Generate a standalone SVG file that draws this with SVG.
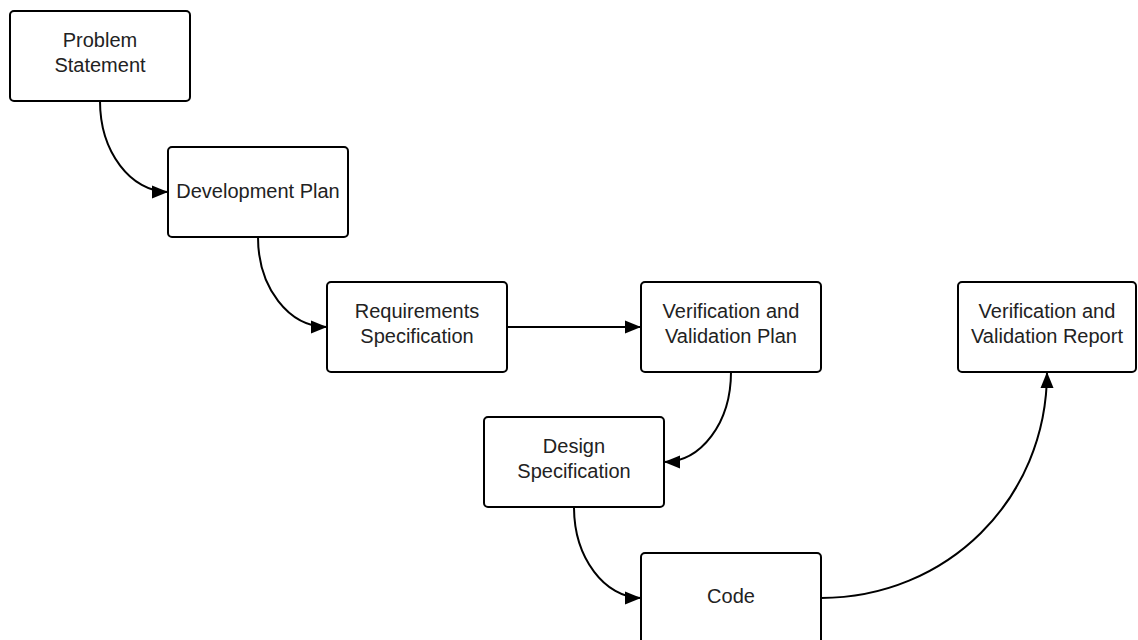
<svg xmlns="http://www.w3.org/2000/svg" width="1138" height="640" viewBox="0 0 1138 640">
<style>
.box{fill:#ffffff;stroke:#000000;stroke-width:2}
.lbl{font-family:"Liberation Sans",Arial,sans-serif;font-size:20px;fill:#222222;text-anchor:middle}
.conn{fill:none;stroke:#000000;stroke-width:2;marker-end:url(#arrow)}
</style>
<defs>
<marker id="arrow" markerUnits="userSpaceOnUse" markerWidth="18" markerHeight="14" refX="16" refY="7" orient="auto">
<path d="M0,0.5 L16,7 L0,13.5 z" fill="#000000"/>
</marker>
</defs>
<rect width="1138" height="640" fill="#ffffff"/>
<g id="connectors">
<path class="conn" d="M100,101 C100,152 131,192 168,192"/>
<path class="conn" d="M258,237 C258,288 289,327 327,327"/>
<path class="conn" d="M507,327 L641,327"/>
<path class="conn" d="M731,372 C731,423 701,462 664,462"/>
<path class="conn" d="M574,507 C574,558 605,598 641,598"/>
<path class="conn" d="M821,598 C946,598 1047,500 1047,372"/>
</g>
<g id="problem-statement">
<rect class="box" x="10" y="11" width="180" height="90" rx="4"/>
<text class="lbl" x="100" y="47">Problem</text>
<text class="lbl" x="100" y="72">Statement</text>
</g>
<g id="development-plan">
<rect class="box" x="168" y="147" width="180" height="90" rx="4"/>
<text class="lbl" x="258" y="198">Development Plan</text>
</g>
<g id="requirements-specification">
<rect class="box" x="327" y="282" width="180" height="90" rx="4"/>
<text class="lbl" x="417" y="318">Requirements</text>
<text class="lbl" x="417" y="343">Specification</text>
</g>
<g id="vv-plan">
<rect class="box" x="641" y="282" width="180" height="90" rx="4"/>
<text class="lbl" x="731" y="318">Verification and</text>
<text class="lbl" x="731" y="343">Validation Plan</text>
</g>
<g id="vv-report">
<rect class="box" x="958" y="282" width="178" height="90" rx="4"/>
<text class="lbl" x="1047" y="318">Verification and</text>
<text class="lbl" x="1047" y="343">Validation Report</text>
</g>
<g id="design-specification">
<rect class="box" x="484" y="417" width="180" height="90" rx="4"/>
<text class="lbl" x="574" y="453">Design</text>
<text class="lbl" x="574" y="478">Specification</text>
</g>
<g id="code">
<rect class="box" x="641" y="553" width="180" height="92" rx="4"/>
<text class="lbl" x="731" y="603">Code</text>
</g>
</svg>
